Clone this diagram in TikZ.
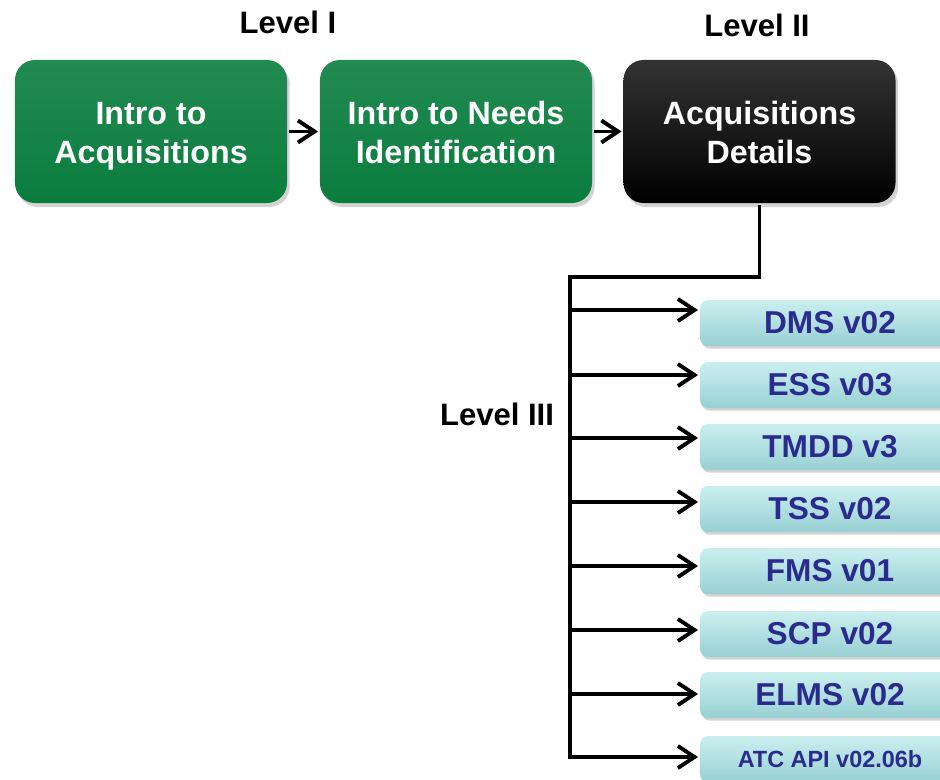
\documentclass[tikz,border=0pt]{standalone}
\usepackage{fontspec}
\setmainfont{Liberation Sans}
\usetikzlibrary{arrows.meta,shadows}

\definecolor{coursegreen}{HTML}{0A7D3E}
\definecolor{moduletop}{HTML}{CBEFEF}
\definecolor{modulebottom}{HTML}{98D0D3}
\definecolor{moduletext}{HTML}{2B2B8F}

\tikzset{
  course/.style={shape=rectangle, rounded corners=0.6cm, minimum width=8.16cm,
    minimum height=4.29cm, inner sep=0pt, align=center, text=white,
    text height=2.09cm, text depth=0.2cm,
    font=\bfseries\fontsize{27.5}{33}\selectfont,
    drop shadow={opacity=0.35, shadow xshift=0.8mm, shadow yshift=-1.2mm}},
  module/.style={shape=rectangle, rounded corners=0.24cm, minimum width=7.8cm,
    minimum height=1.38cm, inner sep=0pt, text=moduletext,
    top color=moduletop, bottom color=modulebottom,
    font=\bfseries\fontsize{27}{30}\selectfont,
    drop shadow={opacity=0.35, shadow xshift=0.5mm, shadow yshift=-0.8mm}},
  levellabel/.style={font=\bfseries\fontsize{26.5}{30}\selectfont, inner sep=0pt},
}

\begin{document}
\begin{tikzpicture}[x=0.03cm, y=-0.03cm, line width=3.3pt,
  >={Straight Barb[length=0.5cm,width=0.66cm]}]
\useasboundingbox (0,0) rectangle (940,780);

% levels
\node (lvl1) at (288,22) [levellabel] {Level I};
\node (lvl2) at (757,25) [levellabel] {Level II};
\node (lvl3) at (497,414) [levellabel] {Level III};

% level I and II courses
\node (intro)   at (151,131.5) [course, top color=coursegreen!90!white, bottom color=coursegreen] {Intro to\\Acquisitions};
\node (needs)   at (456,131.5) [course, top color=coursegreen!90!white, bottom color=coursegreen] {Intro to Needs\\Identification};
\node (details) at (759.5,131.5) [course, top color=black!80, bottom color=black] {Acquisitions\\Details};
\draw [->] (intro) -- (needs);
\draw [->] (needs) -- (details);

% level III modules
\node (dms)  at (830,323) [module] {DMS v02};
\node (ess)  at (830,385) [module] {ESS v03};
\node (tmdd) at (830,447) [module] {TMDD v3};
\node (tss)  at (830,509) [module] {TSS v02};
\node (fms)  at (830,571) [module] {FMS v01};
\node (scp)  at (830,634) [module] {SCP v02};
\node (elms) at (830,695) [module] {ELMS v02};
\node (atc)  at (830,759) [module, font=\bfseries\fontsize{20}{24}\selectfont] {ATC API v02.06b};

\coordinate (bustop) at (570,277);
\coordinate (b1) at (570,310);
\coordinate (b2) at (570,375);
\coordinate (b3) at (570,438);
\coordinate (b4) at (570,502);
\coordinate (b5) at (570,566);
\coordinate (b6) at (570,630);
\coordinate (b7) at (570,694);
\coordinate (b8) at (570,757);

\draw [->] (details.south) |- (bustop) |- (b8 -| atc.west);
\draw [->] (b1) -- (b1 -| dms.west);
\draw [->] (b2) -- (b2 -| ess.west);
\draw [->] (b3) -- (b3 -| tmdd.west);
\draw [->] (b4) -- (b4 -| tss.west);
\draw [->] (b5) -- (b5 -| fms.west);
\draw [->] (b6) -- (b6 -| scp.west);
\draw [->] (b7) -- (b7 -| elms.west);
\end{tikzpicture}
\end{document}
